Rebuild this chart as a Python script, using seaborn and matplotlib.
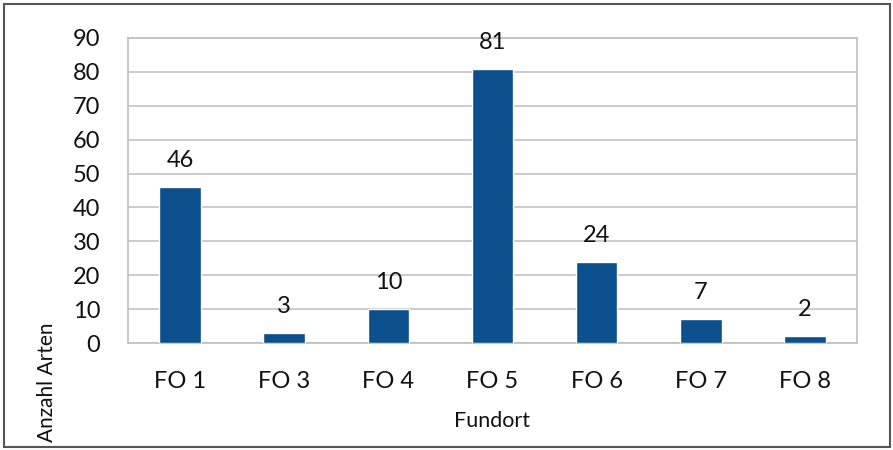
import matplotlib
matplotlib.use("Agg")
import matplotlib.pyplot as plt
import seaborn as sns
import pandas as pd
from matplotlib.patches import Rectangle

categories = ["FO 1", "FO 3", "FO 4", "FO 5", "FO 6", "FO 7", "FO 8"]
values = [46, 3, 10, 81, 24, 7, 2]
yticks = [0, 10, 20, 30, 40, 50, 60, 70, 80, 90]

sns.set_theme(style="white")
plt.rcParams['font.family'] = ['Lato', 'DejaVu Sans']

df = pd.DataFrame({"Fundort": categories, "Anzahl": values})

fig = plt.figure(figsize=(8.93, 4.5), dpi=100)
ax = fig.add_axes([128/893, 1 - 343/450, (857-128)/893, (343-38)/450])

bar_color = "#0B4F8C"
sns.barplot(data=df, x="Fundort", y="Anzahl", color=bar_color, width=0.40,
            saturation=1, ax=ax, zorder=3)

ax.set_ylim(0, 90)
ax.set_xlim(-0.5, len(categories) - 0.5)
ax.set_yticks(yticks)
ax.set_yticklabels([str(t) for t in yticks], fontsize=17, color="#111111")
ax.tick_params(axis='x', labelsize=17, colors="#111111", pad=20, length=0)
ax.tick_params(axis='y', pad=20, length=0)
ax.yaxis.grid(True, color="#C4C4C4", linewidth=1.2, zorder=0)
ax.xaxis.grid(False)
for s in ax.spines.values():
    s.set_color("#BFBFBF")
    s.set_linewidth(1.2)

for i, v in enumerate(values):
    ax.annotate(str(v), (i, v), xytext=(0, 19), textcoords="offset points",
                ha="center", va="center", fontsize=17, color="#111111")

ax.set_xlabel("Fundort", fontsize=15.5, color="#111111", labelpad=14)
ax.set_ylabel("")
fig.text(47/893, 1 - 382/450, "Anzahl Arten", rotation=90, ha="center", va="center",
         fontsize=15, color="#111111")

fig.patches.append(Rectangle((4/893, 3/450), 886/893, 443/450, transform=fig.transFigure,
                             fill=False, edgecolor="#555555", linewidth=1.5))

fig.savefig("out.png", dpi=100)
